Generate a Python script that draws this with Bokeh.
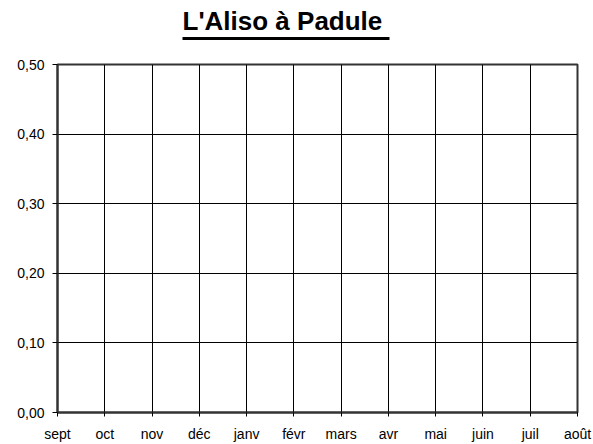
from bokeh.plotting import figure
from bokeh.layouts import column
from bokeh.models import FixedTicker, Range1d, BoxAnnotation, Label
from bokeh.embed import file_html
from bokeh.resources import INLINE

months = ["sept", "oct", "nov", "déc", "janv", "févr", "mars", "avr", "mai", "juin", "juil", "août"]
y_ticks = [0.0, 0.1, 0.2, 0.3, 0.4, 0.5]
y_labels = ["0,00", "0,10", "0,20", "0,30", "0,40", "0,50"]
title_text = "L'Aliso à Padule"

FONT = "Liberation Sans"
W = 593
HEAD_H = 56

# --- header with underlined title ---
head = figure(width=W, height=HEAD_H, output_backend="svg", toolbar_location=None,
              x_range=Range1d(0, W), y_range=Range1d(0, HEAD_H),
              x_axis_location=None, y_axis_location=None,
              min_border=0)
head.grid.visible = False
head.outline_line_color = None
head.background_fill_color = "white"
head.border_fill_color = "white"
head.add_layout(Label(x=125, y=36, x_units="screen", y_units="screen",
                      text=title_text, text_font=FONT, text_font_size="26px",
                      text_font_style="bold", text_color="black",
                      text_align="left", text_baseline="alphabetic"))
head.add_layout(BoxAnnotation(left=125, right=332, top=19.5, bottom=16.5,
                              left_units="screen", right_units="screen",
                              top_units="screen", bottom_units="screen",
                              fill_color="black", fill_alpha=1, line_color=None))

# --- main chart ---
p = figure(width=W, height=444 - HEAD_H, output_backend="svg", toolbar_location=None,
           x_range=Range1d(0, len(months) - 1), y_range=Range1d(0, 0.5),
           min_border_left=57, min_border_right=16, min_border_top=8, min_border_bottom=30)

p.xaxis.ticker = FixedTicker(ticks=list(range(len(months))))
p.xaxis.major_label_overrides = {i: m for i, m in enumerate(months)}
p.yaxis.ticker = FixedTicker(ticks=y_ticks)
p.yaxis.major_label_overrides = {t: l for t, l in zip(y_ticks, y_labels)}

for ax in (p.xaxis, p.yaxis):
    ax.major_label_text_font = FONT
    ax.major_label_text_font_size = "14px"
    ax.major_label_text_color = "black"
    ax.axis_line_color = "#333333"
    ax.axis_line_width = 2
    ax.major_tick_line_color = "black"
    ax.major_tick_in = 0
    ax.minor_tick_line_color = None
p.xaxis.major_tick_out = 4
p.yaxis.major_tick_out = 5
p.xaxis.major_label_standoff = 9
p.yaxis.major_label_standoff = 8

p.xgrid.ticker = FixedTicker(ticks=list(range(len(months))))
p.ygrid.ticker = FixedTicker(ticks=y_ticks)
for g in (p.xgrid, p.ygrid):
    g.grid_line_color = "black"
    g.grid_line_width = 1
    g.grid_line_alpha = 1

p.outline_line_color = "#333333"
p.outline_line_width = 2
p.background_fill_color = "white"
p.border_fill_color = "white"

layout = column(head, p, spacing=0)
open("out.html", "w").write(file_html(layout, INLINE))
